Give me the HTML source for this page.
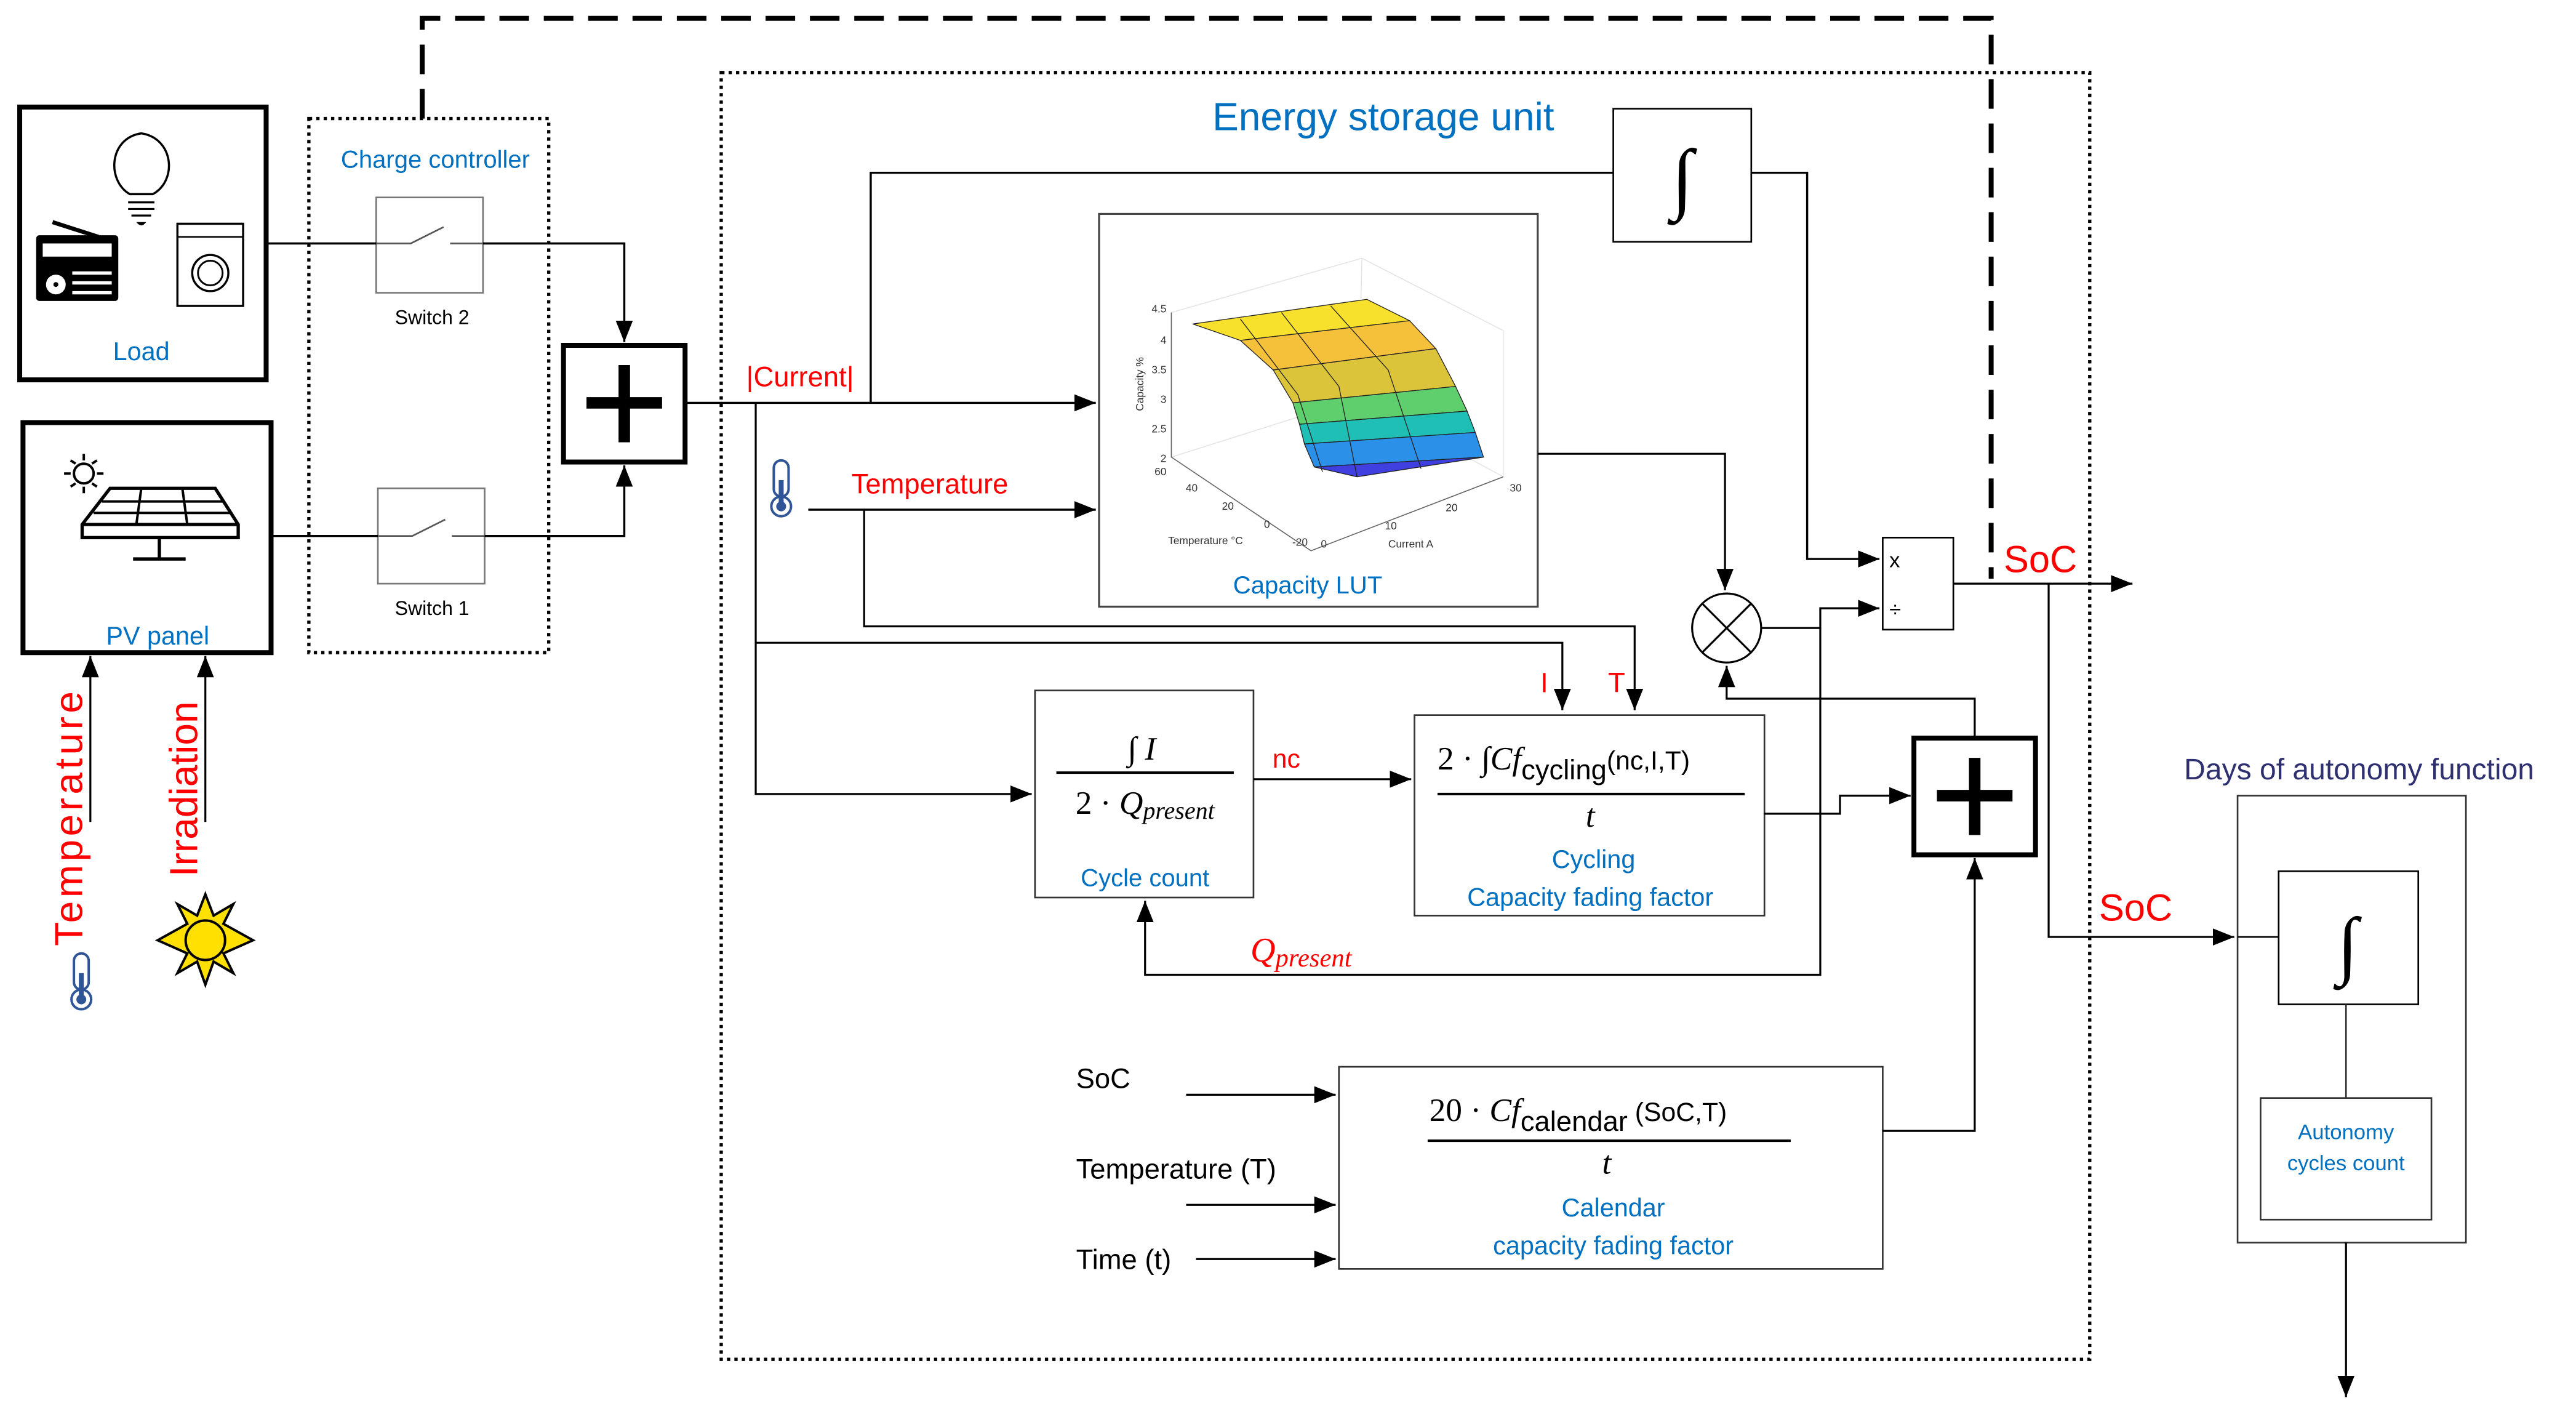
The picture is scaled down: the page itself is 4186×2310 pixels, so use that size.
<!DOCTYPE html>
<html><head><meta charset="utf-8"><style>
html,body{margin:0;padding:0;background:#fff;}
svg{display:block;}
text{font-family:"Liberation Sans",sans-serif;}
.b{fill:#0070c0;}
.r{fill:#ff0000;}
.m{font-family:"Liberation Serif",serif;font-style:italic;}
</style></head><body>
<svg width="4186" height="2310" viewBox="0 0 1568 865" xmlns="http://www.w3.org/2000/svg">
<defs><marker id="A" viewBox="0 0 10 10" refX="10" refY="5" markerWidth="13" markerHeight="13" orient="auto" markerUnits="userSpaceOnUse"><path d="M0,1 L10,5 L0,9z" fill="#000"/></marker></defs>

<path d="M257,72 V11 H1212 V352" fill="none" stroke="#000" stroke-width="3" stroke-dasharray="18,9"/>

<!-- Load box -->
<rect x="12" y="65" width="150" height="166" fill="#fff" stroke="#000" stroke-width="3"/>
<path d="M79,118 C65,110 66,84 86,81 C106,84 108,110 93,118 Z" fill="none" stroke="#000" stroke-width="1.3"/>
<path d="M78,123 H94 M78,127 H94 M80,131 H92" stroke="#000" stroke-width="1.2"/>
<path d="M83,135 H89 Q86,139 83,135z" fill="#000"/>
<line x1="32" y1="135" x2="60" y2="144" stroke="#000" stroke-width="2.5"/>
<rect x="22" y="143" width="50" height="40" rx="2" fill="#000"/>
<rect x="26" y="148" width="42" height="8" fill="#fff"/>
<circle cx="34" cy="173" r="6" fill="#fff"/><circle cx="34" cy="173" r="1.5" fill="#000"/>
<path d="M44,166 H68 M44,172 H68 M44,178 H68" stroke="#fff" stroke-width="2"/>
<rect x="108" y="136" width="40" height="50" fill="none" stroke="#000" stroke-width="1.3"/>
<line x1="108" y1="144" x2="148" y2="144" stroke="#000" stroke-width="1"/>
<circle cx="128" cy="166" r="11" fill="none" stroke="#000" stroke-width="1.3"/>
<circle cx="128" cy="166" r="7.5" fill="none" stroke="#000" stroke-width="1.1"/>
<text x="86" y="219" font-size="15.5" text-anchor="middle" class="b">Load</text>

<!-- PV box -->
<rect x="14" y="257" width="151" height="140" fill="#fff" stroke="#000" stroke-width="3"/>
<circle cx="51" cy="288" r="6" fill="none" stroke="#000" stroke-width="1.5"/>
<path d="M51,276 V280 M51,296 V300 M39,288 H43 M59,288 H63 M43,280 l3,2 M59,280 l-3,2 M43,296 l3,-2 M59,296 l-3,-2" stroke="#000" stroke-width="1.5"/>
<path d="M67,297 H131 L145,319 V327 H50 V319 Z M50,319 H145" fill="none" stroke="#000" stroke-width="2"/>
<path d="M62,305 H136 M57,312 H141 M86,297 L83,319 M111,297 L114,319" stroke="#000" stroke-width="1.5"/>
<path d="M97,327 V340 M81,340 H113" stroke="#000" stroke-width="2"/>
<text x="96" y="392" font-size="15.5" text-anchor="middle" class="b">PV panel</text>

<!-- Charge controller -->
<rect x="188" y="72" width="146" height="325" fill="none" stroke="#000" stroke-width="2" stroke-dasharray="2,2.5"/>
<text x="265" y="102" font-size="15" text-anchor="middle" class="b">Charge controller</text>
<rect x="229" y="120" width="65" height="58" fill="#fff" stroke="#777" stroke-width="1"/>
<path d="M229,148 H250 L270,138 M274,148 H294" fill="none" stroke="#555" stroke-width="1"/>
<text x="263" y="197" font-size="12" text-anchor="middle">Switch 2</text>
<rect x="230" y="297" width="65" height="58" fill="#fff" stroke="#777" stroke-width="1"/>
<path d="M230,326 H251 L271,316 M275,326 H295" fill="none" stroke="#555" stroke-width="1"/>
<text x="263" y="374" font-size="12" text-anchor="middle">Switch 1</text>

<path d="M162,148 H229 M294,148 H380 V208" fill="none" stroke="#000" stroke-width="1.3" marker-end="url(#A)"/>
<path d="M165,326 H230 M295,326 H380 V283" fill="none" stroke="#000" stroke-width="1.3" marker-end="url(#A)"/>

<rect x="343" y="210" width="74" height="71" fill="#fff" stroke="#000" stroke-width="3"/>
<path d="M380,222 V269 M357,245 H403" stroke="#000" stroke-width="7"/>

<!-- Energy storage dotted -->
<rect x="439" y="44" width="833" height="783" fill="none" stroke="#000" stroke-width="2" stroke-dasharray="2,2.5"/>
<text x="842" y="79" font-size="24" text-anchor="middle" class="b">Energy storage unit</text>

<rect x="982" y="66" width="84" height="81" fill="#fff" stroke="#000" stroke-width="1"/>
<text x="1024" y="124" font-size="48" text-anchor="middle" class="m">∫</text>

<path d="M417,245 H667" fill="none" stroke="#000" stroke-width="1.3" marker-end="url(#A)"/>
<path d="M530,245 V105 H982 M1066,105 H1100 V340 H1144" fill="none" stroke="#000" stroke-width="1.3" marker-end="url(#A)"/>
<text x="487" y="235" font-size="17" text-anchor="middle" class="r">|Current|</text>
<path d="M460,245 V483 H628" fill="none" stroke="#000" stroke-width="1.2" marker-end="url(#A)"/>
<path d="M460,391 H951 V432" fill="none" stroke="#000" stroke-width="1.2" marker-end="url(#A)"/>
<text x="940" y="421" font-size="17" text-anchor="middle" class="r">I</text>
<text x="984" y="421" font-size="17" text-anchor="middle" class="r">T</text>

<rect x="471" y="280" width="9" height="22" rx="4.5" fill="#fff" stroke="#2f5597" stroke-width="1.5"/>
<circle cx="475.5" cy="308" r="6" fill="#fff" stroke="#2f5597" stroke-width="1.5"/>
<circle cx="475.5" cy="308" r="3" fill="#2f5597"/><rect x="474" y="292" width="3" height="14" fill="#2f5597"/>
<text x="566" y="300" font-size="17" text-anchor="middle" class="r">Temperature</text>
<path d="M492,310 H667" fill="none" stroke="#000" stroke-width="1.3" marker-end="url(#A)"/>
<path d="M526,310 V381 H995 V432" fill="none" stroke="#000" stroke-width="1.2" marker-end="url(#A)"/>

<!-- LUT -->
<rect x="669" y="130" width="267" height="239" fill="#fff" stroke="#444" stroke-width="1.2"/>
<g stroke="#e4e4e4" stroke-width="0.6" fill="none">
<path d="M713,278 L827,242 L829,157 L713,190 Z M829,157 L915,201 L915,290 L827,242"/>
<path d="M713,278 L798,335 L915,290"/>
</g>
<g stroke="#666" stroke-width="0.6" fill="none"><path d="M713,190 V278 L798,335 L915,290"/></g>
<g font-size="6.5" fill="#333" text-anchor="end">
<text x="710" y="190">4.5</text><text x="710" y="209">4</text><text x="710" y="227">3.5</text><text x="710" y="245">3</text><text x="710" y="263">2.5</text><text x="710" y="281">2</text>
<text x="710" y="289">60</text><text x="729" y="299">40</text><text x="751" y="310">20</text><text x="773" y="321">0</text><text x="796" y="332">-20</text>
</g>
<g font-size="6.5" fill="#333">
<text x="804" y="333">0</text><text x="843" y="322">10</text><text x="880" y="311">20</text><text x="919" y="299">30</text>
<text x="711" y="331">Temperature °C</text><text x="845" y="333">Current A</text>
</g>
<text x="696" y="250" font-size="6.5" fill="#333" transform="rotate(-90 696 250)">Capacity %</text>
<g stroke="#222" stroke-width="0.5">
<polygon points="726,197 832,182 858,195 755,207" fill="#f7e12c"/>
<polygon points="755,207 858,195 874,212 775,225" fill="#f6c13a"/>
<polygon points="775,225 874,212 886,235 787,245" fill="#dcc43a"/>
<polygon points="787,245 886,235 893,250 791,258" fill="#5fcf6e"/>
<polygon points="791,258 893,250 898,263 794,270" fill="#1fbfb5"/>
<polygon points="794,270 898,263 903,278 800,284" fill="#2a90e8"/>
<polygon points="800,284 903,278 826,290" fill="#4040e0"/>
</g>
<g stroke="#222" stroke-width="0.5" fill="none"><path d="M755,194 L790,240 L805,287 M780,190 L815,235 L826,290 M810,186 L845,225 L865,285"/></g>
<text x="796" y="361" font-size="15" text-anchor="middle" class="b">Capacity LUT</text>

<path d="M936,276 H1050 V359" fill="none" stroke="#000" stroke-width="1.2" marker-end="url(#A)"/>
<circle cx="1051" cy="382" r="21" fill="#fff" stroke="#000" stroke-width="1.2"/>
<path d="M1036,367 L1066,397 M1066,367 L1036,397" stroke="#000" stroke-width="1.2"/>
<path d="M1072,382 H1108 V370 H1144" fill="none" stroke="#000" stroke-width="1.2" marker-end="url(#A)"/>
<path d="M1108,382 V593 H697 V548" fill="none" stroke="#000" stroke-width="1.2" marker-end="url(#A)"/>
<path d="M1202,449 V425 H1051 V405" fill="none" stroke="#000" stroke-width="1.2" marker-end="url(#A)"/>

<rect x="1146" y="327" width="43" height="56" fill="#fff" stroke="#000" stroke-width="1"/>
<text x="1150" y="345" font-size="13">x</text>
<text x="1150" y="375" font-size="13">÷</text>
<path d="M1189,355 H1298" fill="none" stroke="#000" stroke-width="1.2" marker-end="url(#A)"/>
<text x="1242" y="348" font-size="23" text-anchor="middle" class="r">SoC</text>
<path d="M1247,355 V570 H1360" fill="none" stroke="#000" stroke-width="1.2" marker-end="url(#A)"/>
<text x="1300" y="560" font-size="23" text-anchor="middle" class="r">SoC</text>

<rect x="630" y="420" width="133" height="126" fill="#fff" stroke="#333" stroke-width="1"/>
<text x="695" y="462" font-size="20" text-anchor="middle" class="m">∫ I</text>
<line x1="643" y1="470" x2="751" y2="470" stroke="#000" stroke-width="1.5"/>
<text x="697" y="495" font-size="20" text-anchor="middle" class="m"><tspan font-style="normal">2 · </tspan>Q<tspan font-size="15" dy="3">present</tspan></text>
<text x="697" y="539" font-size="15" text-anchor="middle" class="b">Cycle count</text>
<path d="M763,474 H859" fill="none" stroke="#000" stroke-width="1.2" marker-end="url(#A)"/>
<text x="783" y="467" font-size="16" text-anchor="middle" class="r">nc</text>

<rect x="861" y="435" width="213" height="122" fill="#fff" stroke="#333" stroke-width="1"/>
<text x="875" y="468" font-size="20" class="m"><tspan font-style="normal">2 · ∫</tspan>Cf<tspan font-style="normal" font-family="Liberation Sans" font-size="17" dy="6">cycling</tspan><tspan font-style="normal" font-family="Liberation Sans" font-size="16" dy="-6">(nc,I,T)</tspan></text>
<line x1="875" y1="483" x2="1062" y2="483" stroke="#000" stroke-width="1.5"/>
<text x="968" y="503" font-size="20" text-anchor="middle" class="m">t</text>
<text x="970" y="528" font-size="15.5" text-anchor="middle" class="b">Cycling</text>
<text x="968" y="551" font-size="15.5" text-anchor="middle" class="b">Capacity fading factor</text>
<path d="M1074,495 H1120 V484 H1163" fill="none" stroke="#000" stroke-width="1.2" marker-end="url(#A)"/>
<text x="792" y="585" font-size="21" text-anchor="middle" class="m r">Q<tspan font-size="16" dy="3">present</tspan></text>

<rect x="1165" y="449" width="74" height="71" fill="#fff" stroke="#000" stroke-width="3"/>
<path d="M1202,461 V508 M1179,484 H1225" stroke="#000" stroke-width="7"/>

<rect x="815" y="649" width="331" height="123" fill="#fff" stroke="#333" stroke-width="1"/>
<text x="870" y="682" font-size="20" class="m"><tspan font-style="normal">20 · </tspan>Cf<tspan font-style="normal" font-family="Liberation Sans" font-size="17" dy="6">calendar</tspan><tspan font-style="normal" font-family="Liberation Sans" font-size="16" dy="-6"> (SoC,T)</tspan></text>
<line x1="869" y1="694" x2="1090" y2="694" stroke="#000" stroke-width="1.5"/>
<text x="978" y="714" font-size="20" text-anchor="middle" class="m">t</text>
<text x="982" y="740" font-size="15.5" text-anchor="middle" class="b">Calendar</text>
<text x="982" y="763" font-size="15.5" text-anchor="middle" class="b">capacity fading factor</text>
<path d="M1146,688 H1202 V522" fill="none" stroke="#000" stroke-width="1.2" marker-end="url(#A)"/>
<text x="655" y="662" font-size="17">SoC</text>
<text x="655" y="717" font-size="17">Temperature (T)</text>
<text x="655" y="772" font-size="17">Time (t)</text>
<path d="M722,666 H813" fill="none" stroke="#000" stroke-width="1.2" marker-end="url(#A)"/>
<path d="M722,733 H813" fill="none" stroke="#000" stroke-width="1.2" marker-end="url(#A)"/>
<path d="M728,766 H813" fill="none" stroke="#000" stroke-width="1.2" marker-end="url(#A)"/>

<text x="1436" y="474" font-size="18" text-anchor="middle" fill="#2e3070">Days of autonomy function</text>
<rect x="1362" y="484" width="139" height="272" fill="#fff" stroke="#333" stroke-width="1"/>
<line x1="1362" y1="570" x2="1387" y2="570" stroke="#000" stroke-width="1"/>
<rect x="1387" y="530" width="85" height="81" fill="#fff" stroke="#000" stroke-width="1"/>
<text x="1429" y="590" font-size="46" text-anchor="middle" class="m">∫</text>
<line x1="1428" y1="611" x2="1428" y2="668" stroke="#333" stroke-width="1"/>
<rect x="1376" y="668" width="104" height="74" fill="#fff" stroke="#333" stroke-width="1"/>
<text x="1428" y="693" font-size="13" text-anchor="middle" class="b">Autonomy</text>
<text x="1428" y="712" font-size="13" text-anchor="middle" class="b">cycles count</text>
<path d="M1428,756 V850" fill="none" stroke="#000" stroke-width="1.2" marker-end="url(#A)"/>

<path d="M55,500 V399" fill="none" stroke="#000" stroke-width="1.2" marker-end="url(#A)"/>
<path d="M125,500 V399" fill="none" stroke="#000" stroke-width="1.2" marker-end="url(#A)"/>
<text x="50" y="498" font-size="24" class="r" transform="rotate(-90 50 498)" text-anchor="middle" textLength="155">Temperature</text>
<text x="120" y="480" font-size="24" class="r" transform="rotate(-90 120 480)" text-anchor="middle">Irradiation</text>
<rect x="45" y="580" width="9" height="22" rx="4.5" fill="#fff" stroke="#2f5597" stroke-width="1.5"/>
<circle cx="49.5" cy="608" r="6" fill="#fff" stroke="#2f5597" stroke-width="1.5"/>
<circle cx="49.5" cy="608" r="3" fill="#2f5597"/><rect x="48" y="592" width="3" height="14" fill="#2f5597"/>
<polygon points="125,544 130,557 142,550 136,562 154,572 136,580 142,592 130,585 125,599 120,585 108,592 114,580 96,572 114,562 108,550 120,557" fill="#ffe000" stroke="#000" stroke-width="1.5"/>
<circle cx="125" cy="572" r="12" fill="#ffe000" stroke="#000" stroke-width="1.5"/>
</svg>
</body></html>
